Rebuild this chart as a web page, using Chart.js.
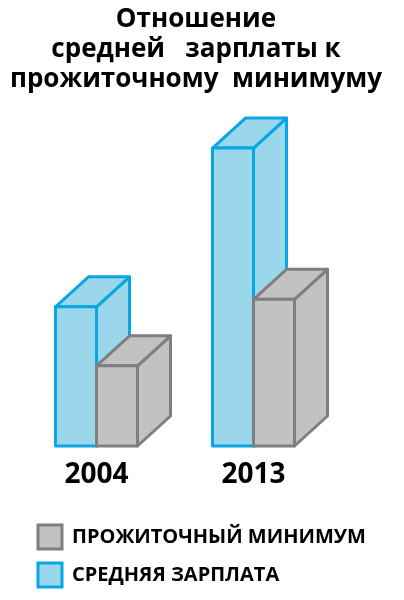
<!DOCTYPE html>
<html>
<head>
<meta charset="utf-8">
<script src="https://cdn.jsdelivr.net/npm/chart.js@4.4.1/dist/chart.umd.min.js"></script>
<style>
  html, body { margin: 0; padding: 0; background: #fff; }
  #wrap { width: 404px; height: 600px; }
</style>
</head>
<body>
<div id="wrap"><canvas id="chart"></canvas></div>
<script>
// данные
const years = ['2004', '2013'];
const salary = [4.6, 9.85];        // средняя зарплата
const minimum = [2.65, 4.85];      // прожиточный минимум
const titleLines = ['Отношение', 'средней   зарплаты к', 'прожиточному  минимуму'];

const dx = 33, dy = 30;

// рисуем бары как 3D-коробки
const box3d = {
  id: 'box3d',
  afterLayout(chart) {
    // заголовок центрирован чуть левее, чем область легенды
    chart.titleBlock.left = 0;
    chart.titleBlock.right = 392;
  },
  afterDatasetsDraw(chart) {
    const ctx = chart.ctx;
    const poly = pts => {
      ctx.beginPath();
      ctx.moveTo(pts[0][0], pts[0][1]);
      for (let k = 1; k < pts.length; k++) ctx.lineTo(pts[k][0], pts[k][1]);
      ctx.closePath();
      ctx.fill();
      ctx.stroke();
    };
    chart.data.labels.forEach((lab, i) => {
      chart.data.datasets.forEach((ds, d) => {
        const bar = chart.getDatasetMeta(d).data[i];
        const {x, y, base, width} = bar.getProps(['x', 'y', 'base', 'width'], true);
        const l = x - width / 2, r = x + width / 2;
        ctx.save();
        ctx.fillStyle = ds.backgroundColor;
        ctx.strokeStyle = ds.borderColor;
        ctx.lineWidth = 3;
        ctx.lineJoin = 'round';
        poly([[r, base], [r, y], [r + dx, y - dy], [r + dx, base - dy]]);
        poly([[l, y], [l + dx, y - dy], [r + dx, y - dy], [r, y]]);
        poly([[l, base], [l, y], [r, y], [r, base]]);
        ctx.restore();
      });
    });
  }
};

Chart.defaults.font.family = '"Open Sans", sans-serif';
Chart.defaults.color = '#000';

new Chart(document.getElementById('chart'), {
  type: 'bar',
  data: {
    labels: years,
    datasets: [{
      label: 'СРЕДНЯЯ ЗАРПЛАТА',
      data: salary,
      backgroundColor: '#9bd7ea',
      borderColor: '#0aa5e4',
      borderWidth: 3,
      barThickness: 41
    }, {
      label: 'ПРОЖИТОЧНЫЙ МИНИМУМ',
      data: minimum,
      backgroundColor: '#c2c2c2',
      borderColor: '#7f7f7f',
      borderWidth: 3,
      barThickness: 41
    }]
  },
  options: {
    responsive: true,
    maintainAspectRatio: false,
    animation: false,
    layout: { padding: { left: 24, right: 0, top: 0, bottom: 3 } },
    scales: {
      x: {
        offset: false,
        grid: { display: false, drawTicks: false },
        border: { display: false },
        ticks: { padding: 12, font: { size: 28, weight: 'bold' } },
        afterFit(scale) { scale.height = 65; }
      },
      y: {
        min: 0,
        max: 11.3,
        grid: { display: false },
        border: { display: false },
        ticks: { display: false },
        afterFit(scale) { scale.width = 72.5; }
      },
      y2: {
        position: 'right',
        min: 0,
        max: 1,
        grid: { display: false },
        border: { display: false },
        ticks: { display: false },
        afterFit(scale) { scale.width = 150.5; }
      }
    },
    plugins: {
      title: {
        display: true,
        text: titleLines,
        font: { size: 26, weight: 'bold', lineHeight: 1.15 },
        padding: { top: 5, bottom: 9.5 }
      },
      legend: {
        position: 'bottom',
        align: 'start',
        reverse: true,
        labels: {
          boxWidth: 24,
          boxHeight: 24,
          padding: 14,
          font: { size: 20, weight: 'bold' }
        }
      },
      tooltip: { enabled: false }
    }
  },
  plugins: [box3d]
});
</script>
</body>
</html>
